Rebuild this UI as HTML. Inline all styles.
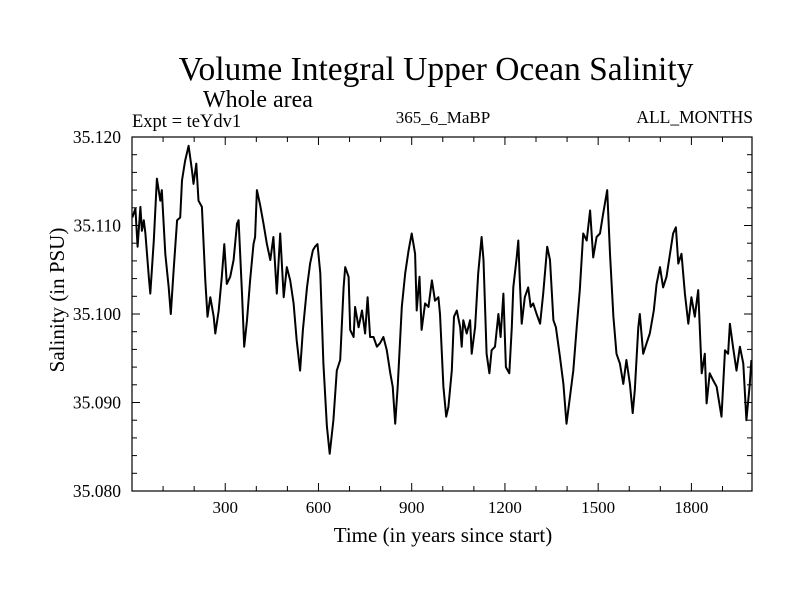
<!DOCTYPE html>
<html><head><meta charset="utf-8"><style>
html,body{margin:0;padding:0;background:#fff;}
svg text{font-family:"Liberation Serif",serif;fill:#000;}
</style></head><body>
<svg id="chart" width="800" height="600" xmlns="http://www.w3.org/2000/svg">
<rect width="800" height="600" fill="#fff"/>
<text x="436" y="80" font-size="33.5" text-anchor="middle">Volume Integral Upper Ocean Salinity</text>
<text x="203" y="107" font-size="24">Whole area</text>
<text x="132" y="127" font-size="18.5">Expt = teYdv1</text>
<text x="443" y="123" font-size="17" text-anchor="middle">365_6_MaBP</text>
<text x="753" y="123" font-size="17.5" text-anchor="end">ALL_MONTHS</text>
<text transform="translate(64,300) rotate(-90)" font-size="21" text-anchor="middle">Salinity (in PSU)</text>
<text x="443" y="542" font-size="21" text-anchor="middle">Time (in years since start)</text>
<g id="axes"></g>
<path id="series" fill="none" stroke="#000" stroke-width="2" stroke-linejoin="round"/>
<rect x="132" y="137" width="620" height="354" fill="none" stroke="#000" stroke-width="1.2"/>
</svg>
<script>
const years=[1,11,18,27,32,38,43,54,59,70,80,91,96,107,118,125,134,145,155,161,171,182,193,198,207,214,225,236,243,252,263,268,279,289,297,305,316,327,338,343,354,361,370,380,391,396,402,412,423,434,445,455,466,477,488,498,509,520,530,541,550,563,573,582,589,597,606,616,627,636,648,659,670,681,686,697,702,713,718,729,740,750,758,766,777,788,798,809,820,831,839,847,855,868,879,890,900,911,916,925,932,943,954,965,975,986,
991,1002,1011,1018,1029,1036,1045,1056,1061,1066,1077,1088,1093,1104,1114,1125,1131,1141,1150,1157,1168,1179,1186,1195,1203,1214,1222,1227,1238,1243,1248,1254,1264,1275,1283,1291,1302,1313,1323,1336,1345,1356,1364,1377,1388,1398,1409,1420,1431,1441,1452,1463,1474,1484,1495,1506,1516,1529,1538,1549,1559,1570,1581,1591,1602,1611,1618,1629,1634,1645,1656,1666,1679,1688,1699,1709,1720,1731,1741,1750,1758,1768,1779,1790,1800,1811,1822,1833,1843,1849,1859,1870,1881,1897,1908,1918,1924,1934,1945,1956,1967,1977,1988,1993];
const salinity=[35.1109,35.1119,35.1076,35.1121,35.1094,35.1106,35.1091,35.1042,35.1023,35.1083,35.1153,35.1128,35.1140,35.1068,35.1030,35.1000,35.1049,35.1106,35.1109,35.1151,35.1173,35.1190,35.1162,35.1147,35.1170,35.1128,35.1121,35.1038,35.0997,35.1019,35.0997,35.0978,35.1004,35.1042,35.1079,35.1034,35.1042,35.1061,35.1102,35.1106,35.1023,35.0963,35.0993,35.1038,35.1079,35.1087,35.1140,35.1124,35.1102,35.1079,35.1061,35.1087,35.1023,35.1091,35.1019,35.1053,35.1038,35.1012,35.0970,35.0936,35.0982,35.1030,35.1057,35.1072,35.1076,35.1079,35.1046,35.0944,35.0873,35.0842,35.0880,35.0936,35.0948,35.1030,35.1053,35.1042,35.0982,35.0974,35.1008,35.0985,35.1004,35.0978,35.1019,35.0974,35.0974,35.0963,35.0967,35.0974,35.0959,35.0933,35.0918,35.0876,35.0918,35.1008,35.1046,35.1072,35.1091,35.1068,35.1004,35.1042,35.0982,35.1012,35.1008,35.1038,35.1015,35.1019,
35.1000,35.0918,35.0884,35.0895,35.0936,35.0997,35.1004,35.0985,35.0963,35.0993,35.0978,35.0993,35.0955,35.0985,35.1046,35.1087,35.1061,35.0955,35.0933,35.0959,35.0963,35.1000,35.0974,35.1023,35.0940,35.0933,35.0985,35.1030,35.1064,35.1083,35.1038,35.0989,35.1019,35.1030,35.1008,35.1012,35.1000,35.0989,35.1023,35.1076,35.1061,35.0993,35.0985,35.0952,35.0921,35.0876,35.0906,35.0936,35.0985,35.1027,35.1091,35.1083,35.1117,35.1064,35.1087,35.1091,35.1113,35.1140,35.1068,35.0997,35.0955,35.0944,35.0921,35.0948,35.0921,35.0888,35.0914,35.0985,35.1000,35.0955,35.0967,35.0978,35.1004,35.1034,35.1053,35.1030,35.1042,35.1068,35.1091,35.1098,35.1057,35.1068,35.1023,35.0989,35.1019,35.0997,35.1027,35.0933,35.0955,35.0899,35.0933,35.0925,35.0918,35.0884,35.0959,35.0955,35.0989,35.0963,35.0936,35.0963,35.0944,35.0880,35.0921,35.0948];
const xTickLabels=[300,600,900,1200,1500,1800];
const yTickLabels=["35.080","35.090","35.100","35.110","35.120"];
const X0=132,X1=752,Y0=491,Y1=137,XMIN=0,XMAX=1995,YMIN=35.08,YMAX=35.12;
function sx(v){return X0+(v-XMIN)/(XMAX-XMIN)*(X1-X0);}
function sy(v){return Y0-(v-YMIN)/(YMAX-YMIN)*(Y0-Y1);}
const NS="http://www.w3.org/2000/svg";
const axes=document.getElementById('axes');
function line(x1,y1,x2,y2,name){const l=document.createElementNS(NS,'line');l.setAttribute('x1',x1);l.setAttribute('y1',y1);l.setAttribute('x2',x2);l.setAttribute('y2',y2);l.setAttribute('stroke','#000');l.setAttribute('stroke-width','1');


axes.appendChild(l);}
for(let t=100;t<XMAX;t+=100){const x=sx(t);const len=(t%300===0)?8:5;line(x,Y0,x,Y0-len,'x-tick');line(x,Y1,x,Y1+len,'x-tick-top');}
xTickLabels.forEach(v=>{const t=document.createElementNS(NS,'text');t.setAttribute('x',sx(v));t.setAttribute('y',Y0+22);t.setAttribute('font-size','17');t.setAttribute('text-anchor','middle');t.textContent=v;


axes.appendChild(t);});
for(let i=1;i<20;i++){const v=YMIN+i*0.002;const y=sy(v);const len=(i%5===0)?8:5;line(X0,y,X0+len,y,'y-tick');line(X1,y,X1-len,y,'y-tick-right');}
yTickLabels.forEach(s=>{const t=document.createElementNS(NS,'text');t.setAttribute('x',121);t.setAttribute('y',sy(parseFloat(s))+6);t.setAttribute('font-size','17.5');t.setAttribute('text-anchor','end');t.textContent=s;


axes.appendChild(t);});
let d='';years.forEach((yr,i)=>{d+=(i?'L':'M')+sx(yr).toFixed(1)+','+sy(salinity[i]).toFixed(1);});
document.getElementById('series').setAttribute('d',d);
</script>
</body></html>
